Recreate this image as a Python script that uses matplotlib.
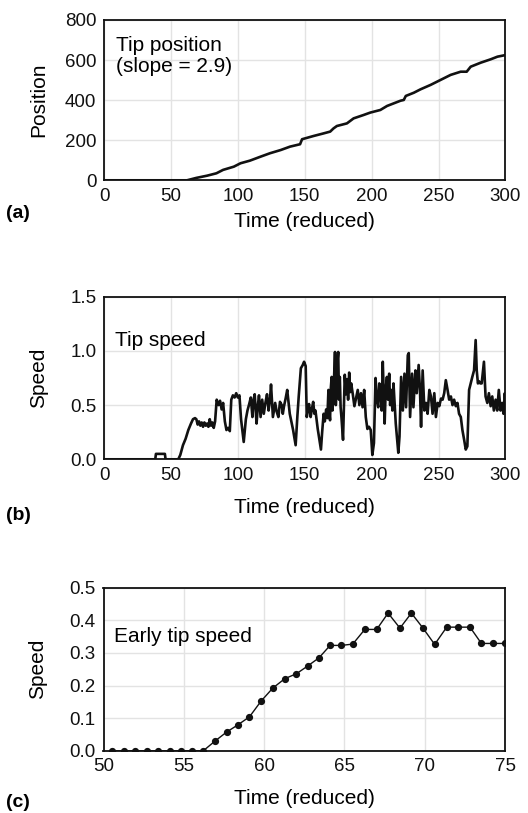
import numpy as np
import matplotlib
matplotlib.use('Agg')
import matplotlib.pyplot as plt

plt.rcParams['font.family'] = ['Liberation Sans', 'DejaVu Sans']

# (a) tip position
pos_t = [0, 62, 69, 77, 84, 89, 97, 102, 109, 117, 124, 132, 139, 146.5, 148, 156.5,
         164, 169, 171.5, 174, 181.5, 186.5, 194, 199, 206.5, 211.5, 221.5, 224, 225.5,
         231.5, 236.5, 244, 251.5, 259, 266.5, 271, 274, 281.5, 289, 294, 300]
pos_y = [0, 0, 12, 23, 35, 52, 68, 85, 98, 118, 135, 151, 168, 180, 205, 221,
         234, 243, 259, 271, 284, 309, 326, 338, 351, 371, 397, 401, 421,
         437, 454, 476, 501, 526, 542, 542, 567, 587, 604, 617, 625]

# (b) tip speed
spd_t = [0, 38.3, 38.8, 45.5, 46, 55.5, 57, 59, 61, 63, 65, 66.5, 68, 69, 70, 71, 72, 73,
         74, 75, 76, 77, 78, 79, 80, 81, 82, 83, 84.2, 85.5, 86.7, 87.9, 89, 90.3, 91.5,
         92.7, 94, 95.1, 96.3, 97.6, 98.8, 100, 101.2, 102.4, 104.4, 106, 107.2, 108.5,
         109.7, 110.9, 111.8, 112.6, 114, 115, 115.8, 117, 118.2, 119.4, 120.6, 121.8,
         123, 124, 124.8, 126.2, 127.9, 129, 130.3, 131.5, 132.8, 133.6, 134.5, 135.7,
         136.9, 138.8, 140, 141.3, 143.2, 144.5, 145.5, 147.1, 148.5, 149.5, 150.7,
         151.5, 152.4, 153.2, 154.4, 155.4, 156.3, 157.2, 158, 159.7, 162.1, 163, 164.1,
         165, 166, 166.9, 167.7, 168.3, 168.9, 169.5, 170.1, 170.7, 171.4, 172, 172.6,
         173.2, 173.8, 174.4, 175, 175.6, 176.2, 176.8, 177.4, 178.6, 179.9, 180.8,
         181.6, 182.4, 183.2, 184, 184.7, 185.9, 187.1, 188.3, 189.6, 190.8, 192, 193.2,
         194.4, 195.6, 196.8, 198, 199.3, 200.5, 201.7, 202.9, 203.9, 204.9, 205.7,
         206.6, 207.5, 208.3, 209.7, 210.5, 211.4, 212.2, 213.1, 213.8, 214.6, 215.5,
         216.3, 217.2, 218, 219.9, 220.8, 222, 223.3, 224.5, 225.7, 227, 227.7, 228.7,
         230.2, 231.2, 232.7, 233.7, 235.1, 236.1, 236.9, 238.1, 239.4, 240.6, 241.8,
         243.1, 244.3, 245.5, 246.8, 248, 249.3, 250.5, 251.8, 253, 254.2, 255.4, 256.7,
         257.9, 259.2, 260.4, 261.6, 262.9, 264.1, 265.3, 266.6, 267.8, 269.1, 270.3,
         271.5, 272.8, 274, 275.2, 276.5, 277.7, 278.5, 279.4, 280.2, 281.2, 282.2,
         283.9, 285.1, 286.4, 287.6, 288.9, 290.1, 291.3, 292.6, 293.8, 295, 296.3,
         297.5, 298.5, 299.5, 300]
spd_v = [0, 0, 0.05, 0.05, 0, 0, 0.04, 0.13, 0.19, 0.27, 0.33, 0.37, 0.38, 0.37, 0.32, 0.35,
         0.31, 0.34, 0.30, 0.34, 0.31, 0.33, 0.30, 0.37, 0.31, 0.34, 0.29, 0.35, 0.55, 0.50,
         0.54, 0.46, 0.52, 0.35, 0.27, 0.29, 0.26, 0.55, 0.59, 0.57, 0.61, 0.57, 0.59,
         0.37, 0.16, 0.37, 0.45, 0.51, 0.57, 0.39, 0.55, 0.60, 0.33, 0.50, 0.59, 0.39,
         0.55, 0.42, 0.52, 0.60, 0.45, 0.55, 0.69, 0.39, 0.52, 0.44, 0.39, 0.53, 0.50,
         0.42, 0.49, 0.56, 0.64, 0.42, 0.35, 0.27, 0.13, 0.40, 0.58, 0.84, 0.87, 0.90,
         0.86, 0.39, 0.46, 0.51, 0.39, 0.47, 0.53, 0.42, 0.45, 0.28, 0.09, 0.25, 0.42,
         0.35, 0.46, 0.38, 0.64, 0.44, 0.36, 0.66, 0.76, 0.45, 0.58, 0.80, 0.99, 0.50,
         0.64, 0.90, 0.99, 0.55, 0.76, 0.48, 0.39, 0.18, 0.78, 0.60, 0.74, 0.55, 0.80,
         0.62, 0.70, 0.60, 0.49, 0.56, 0.64, 0.50, 0.61, 0.48, 0.64, 0.39, 0.28, 0.30,
         0.27, 0.04, 0.15, 0.75, 0.55, 0.48, 0.70, 0.64, 0.45, 0.90, 0.33, 0.65, 0.76,
         0.55, 0.79, 0.50, 0.64, 0.45, 0.70, 0.50, 0.33, 0.06, 0.21, 0.76, 0.45, 0.79,
         0.48, 0.96, 0.98, 0.39, 0.79, 0.48, 0.82, 0.61, 0.87, 0.64, 0.30, 0.82, 0.45,
         0.52, 0.42, 0.64, 0.58, 0.42, 0.61, 0.39, 0.52, 0.49, 0.56, 0.55, 0.61, 0.73,
         0.64, 0.55, 0.58, 0.50, 0.55, 0.49, 0.52, 0.42, 0.39, 0.27, 0.18, 0.09, 0.12,
         0.64, 0.70, 0.76, 0.82, 1.10, 0.82, 0.70, 0.72, 0.70, 0.70, 0.90, 0.58, 0.52,
         0.61, 0.49, 0.58, 0.45, 0.55, 0.45, 0.64, 0.45, 0.52, 0.42, 0.61, 0.52]

# (c) early tip speed
early_t = [50.56, 51.27, 51.97, 52.68, 53.40, 54.11, 54.81, 55.52, 56.22, 56.93, 57.66,
           58.36, 59.09, 59.81, 60.54, 61.29, 62.01, 62.72, 63.42, 64.11, 64.81, 65.52,
           66.27, 67.01, 67.72, 68.46, 69.17, 69.88, 70.62, 71.37, 72.10, 72.82, 73.53,
           74.25, 75.0]
early_v = [0, 0, 0, 0, 0, 0, 0, 0, 0, 0.029, 0.057, 0.079, 0.104, 0.152, 0.192,
           0.221, 0.236, 0.260, 0.285, 0.323, 0.323, 0.327, 0.372, 0.372, 0.422, 0.376,
           0.422, 0.377, 0.326, 0.379, 0.379, 0.379, 0.329, 0.329, 0.329]

W, H = 528, 813
fig = plt.figure(figsize=(W / 100, H / 100), dpi=100)

def frac(left, top, right, bottom):
    return [left / W, 1 - bottom / H, (right - left) / W, (bottom - top) / H]

ax1 = fig.add_axes(frac(104, 20, 505.5, 180.3))
ax2 = fig.add_axes(frac(104, 296.7, 505.5, 459.3))
ax3 = fig.add_axes(frac(103.5, 587.7, 505, 750.7))

ink = '#111111'
ax1.plot(pos_t, pos_y, color=ink, lw=1.9)
ax2.plot(spd_t, spd_v, color=ink, lw=1.9)
ax3.plot(early_t, early_v, color=ink, lw=1.0, marker='o', ms=4.2)

ax1.set_xlim(0, 300)
ax1.set_ylim(0, 800)
ax1.set_xticks(np.arange(0, 301, 50))
ax1.set_yticks(np.arange(0, 801, 200))

ax2.set_xlim(0, 300)
ax2.set_ylim(0, 1.5)
ax2.set_xticks(np.arange(0, 301, 50))
ax2.set_yticks([0, 0.5, 1.0, 1.5])
ax2.set_yticklabels(['0.0', '0.5', '1.0', '1.5'])

ax3.set_xlim(50, 75)
ax3.set_ylim(0, 0.5)
ax3.set_xticks(np.arange(50, 76, 5))
ax3.set_yticks([0, 0.1, 0.2, 0.3, 0.4, 0.5])
ax3.set_yticklabels(['0.0', '0.1', '0.2', '0.3', '0.4', '0.5'])

ylabels = ['Position', 'Speed', 'Speed']
xlab_y = [-0.2, -0.238, -0.235]
for ax, yl, xy in zip([ax1, ax2, ax3], ylabels, xlab_y):
    ax.grid(True, color='#e3e3e3', lw=1.0)
    ax.set_axisbelow(True)
    ax.tick_params(length=0, labelsize=13.5, pad=5.5, colors='#111111')
    for s in ax.spines.values():
        s.set_linewidth(1.3)
        s.set_color('#111111')
    ax.set_xlabel('Time (reduced)', fontsize=15)
    ax.set_ylabel(yl, fontsize=15)
    ax.xaxis.set_label_coords(0.5, xy)
    ax.yaxis.set_label_coords(-0.14, 0.5)

ax1.text(0.03, 0.9, 'Tip position\n(slope = 2.9)', transform=ax1.transAxes,
         fontsize=15, va='top', ha='left', linespacing=1.1)
ax2.text(0.027, 0.79, 'Tip speed', transform=ax2.transAxes,
         fontsize=15, va='top', ha='left')
ax3.text(0.027, 0.76, 'Early tip speed', transform=ax3.transAxes,
         fontsize=15, va='top', ha='left')

for lab, y in zip(['(a)', '(b)', '(c)'], [213, 516, 802]):
    fig.text(6 / W, 1 - y / H, lab, fontsize=14, fontweight='bold', va='center', ha='left')

fig.savefig('out.png', dpi=100)
